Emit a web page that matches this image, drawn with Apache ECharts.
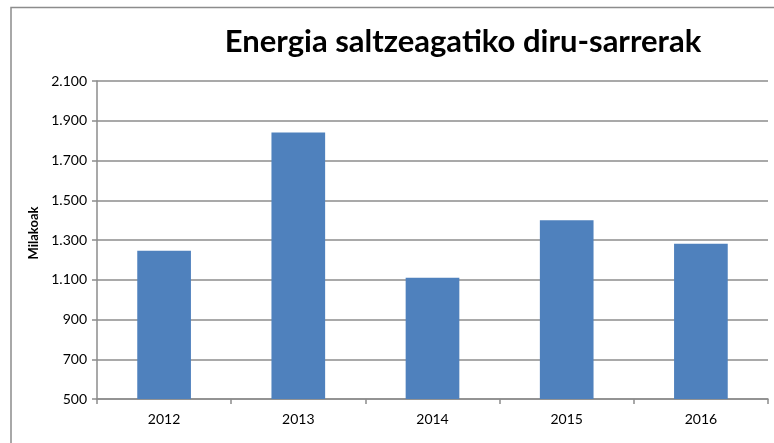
<!DOCTYPE html>
<html>
<head>
<meta charset="utf-8">
<style>
  html, body { margin: 0; padding: 0; background: #fff; }
  #main { width: 774px; height: 443px; }
</style>
<script src="https://cdn.jsdelivr.net/npm/echarts@6/dist/echarts.min.js"></script>
</head>
<body>
<div id="main"></div>
<script>
// datuak
var urteak = ['2012', '2013', '2014', '2015', '2016'];
var diruSarrerak = [1246, 1841, 1110, 1399, 1281];
var yMin = 500, yMax = 2100, yTartea = 200;

var grisa = '#8c8c8c';

function milakoa(v) {
  // 1900 -> 1.900
  return String(v).replace(/\B(?=(\d{3})+(?!\d))/g, '.');
}

var chart = echarts.init(document.getElementById('main'), null, { renderer: 'canvas' });

chart.setOption({
  animation: false,
  textStyle: { fontFamily: 'Lato' },
  title: {
    text: 'Energia saltzeagatiko diru-sarrerak',
    left: 458,
    top: 21,
    textAlign: 'center',
    textStyle: { fontFamily: 'Lato', fontWeight: 'bold', fontSize: 31, color: '#000' }
  },
  graphic: [{
    type: 'rect',
    shape: { x: 11, y: 7.5, width: 900, height: 600 },
    style: { fill: 'none', stroke: grisa, lineWidth: 1.5 },
    silent: true
  }],
  grid: { left: 97, right: 6, top: 81, bottom: 44 },
  xAxis: {
    type: 'category',
    data: urteak,
    axisLine: { lineStyle: { color: grisa, width: 1.5 } },
    axisTick: { show: true, length: 5, lineStyle: { color: grisa, width: 1.5 } },
    axisLabel: { color: '#000', fontSize: 14, margin: 13 }
  },
  yAxis: {
    type: 'value',
    min: yMin,
    max: yMax,
    interval: yTartea,
    name: 'Milakoak',
    nameLocation: 'middle',
    nameGap: 51,
    nameTextStyle: { fontWeight: 'bold', fontSize: 13, color: '#000', padding: [0, 0, 0, 14] },
    axisLine: { show: true, lineStyle: { color: grisa, width: 1.5 } },
    axisTick: { show: true, length: 5, lineStyle: { color: grisa, width: 1.5 } },
    splitLine: { lineStyle: { color: grisa, width: 1.5 } },
    axisLabel: { color: '#000', fontSize: 14, margin: 10, formatter: milakoa }
  },
  series: [{
    type: 'bar',
    data: diruSarrerak,
    barWidth: '40%',
    itemStyle: { color: '#4f81bd' }
  }]
});
</script>
</body>
</html>
